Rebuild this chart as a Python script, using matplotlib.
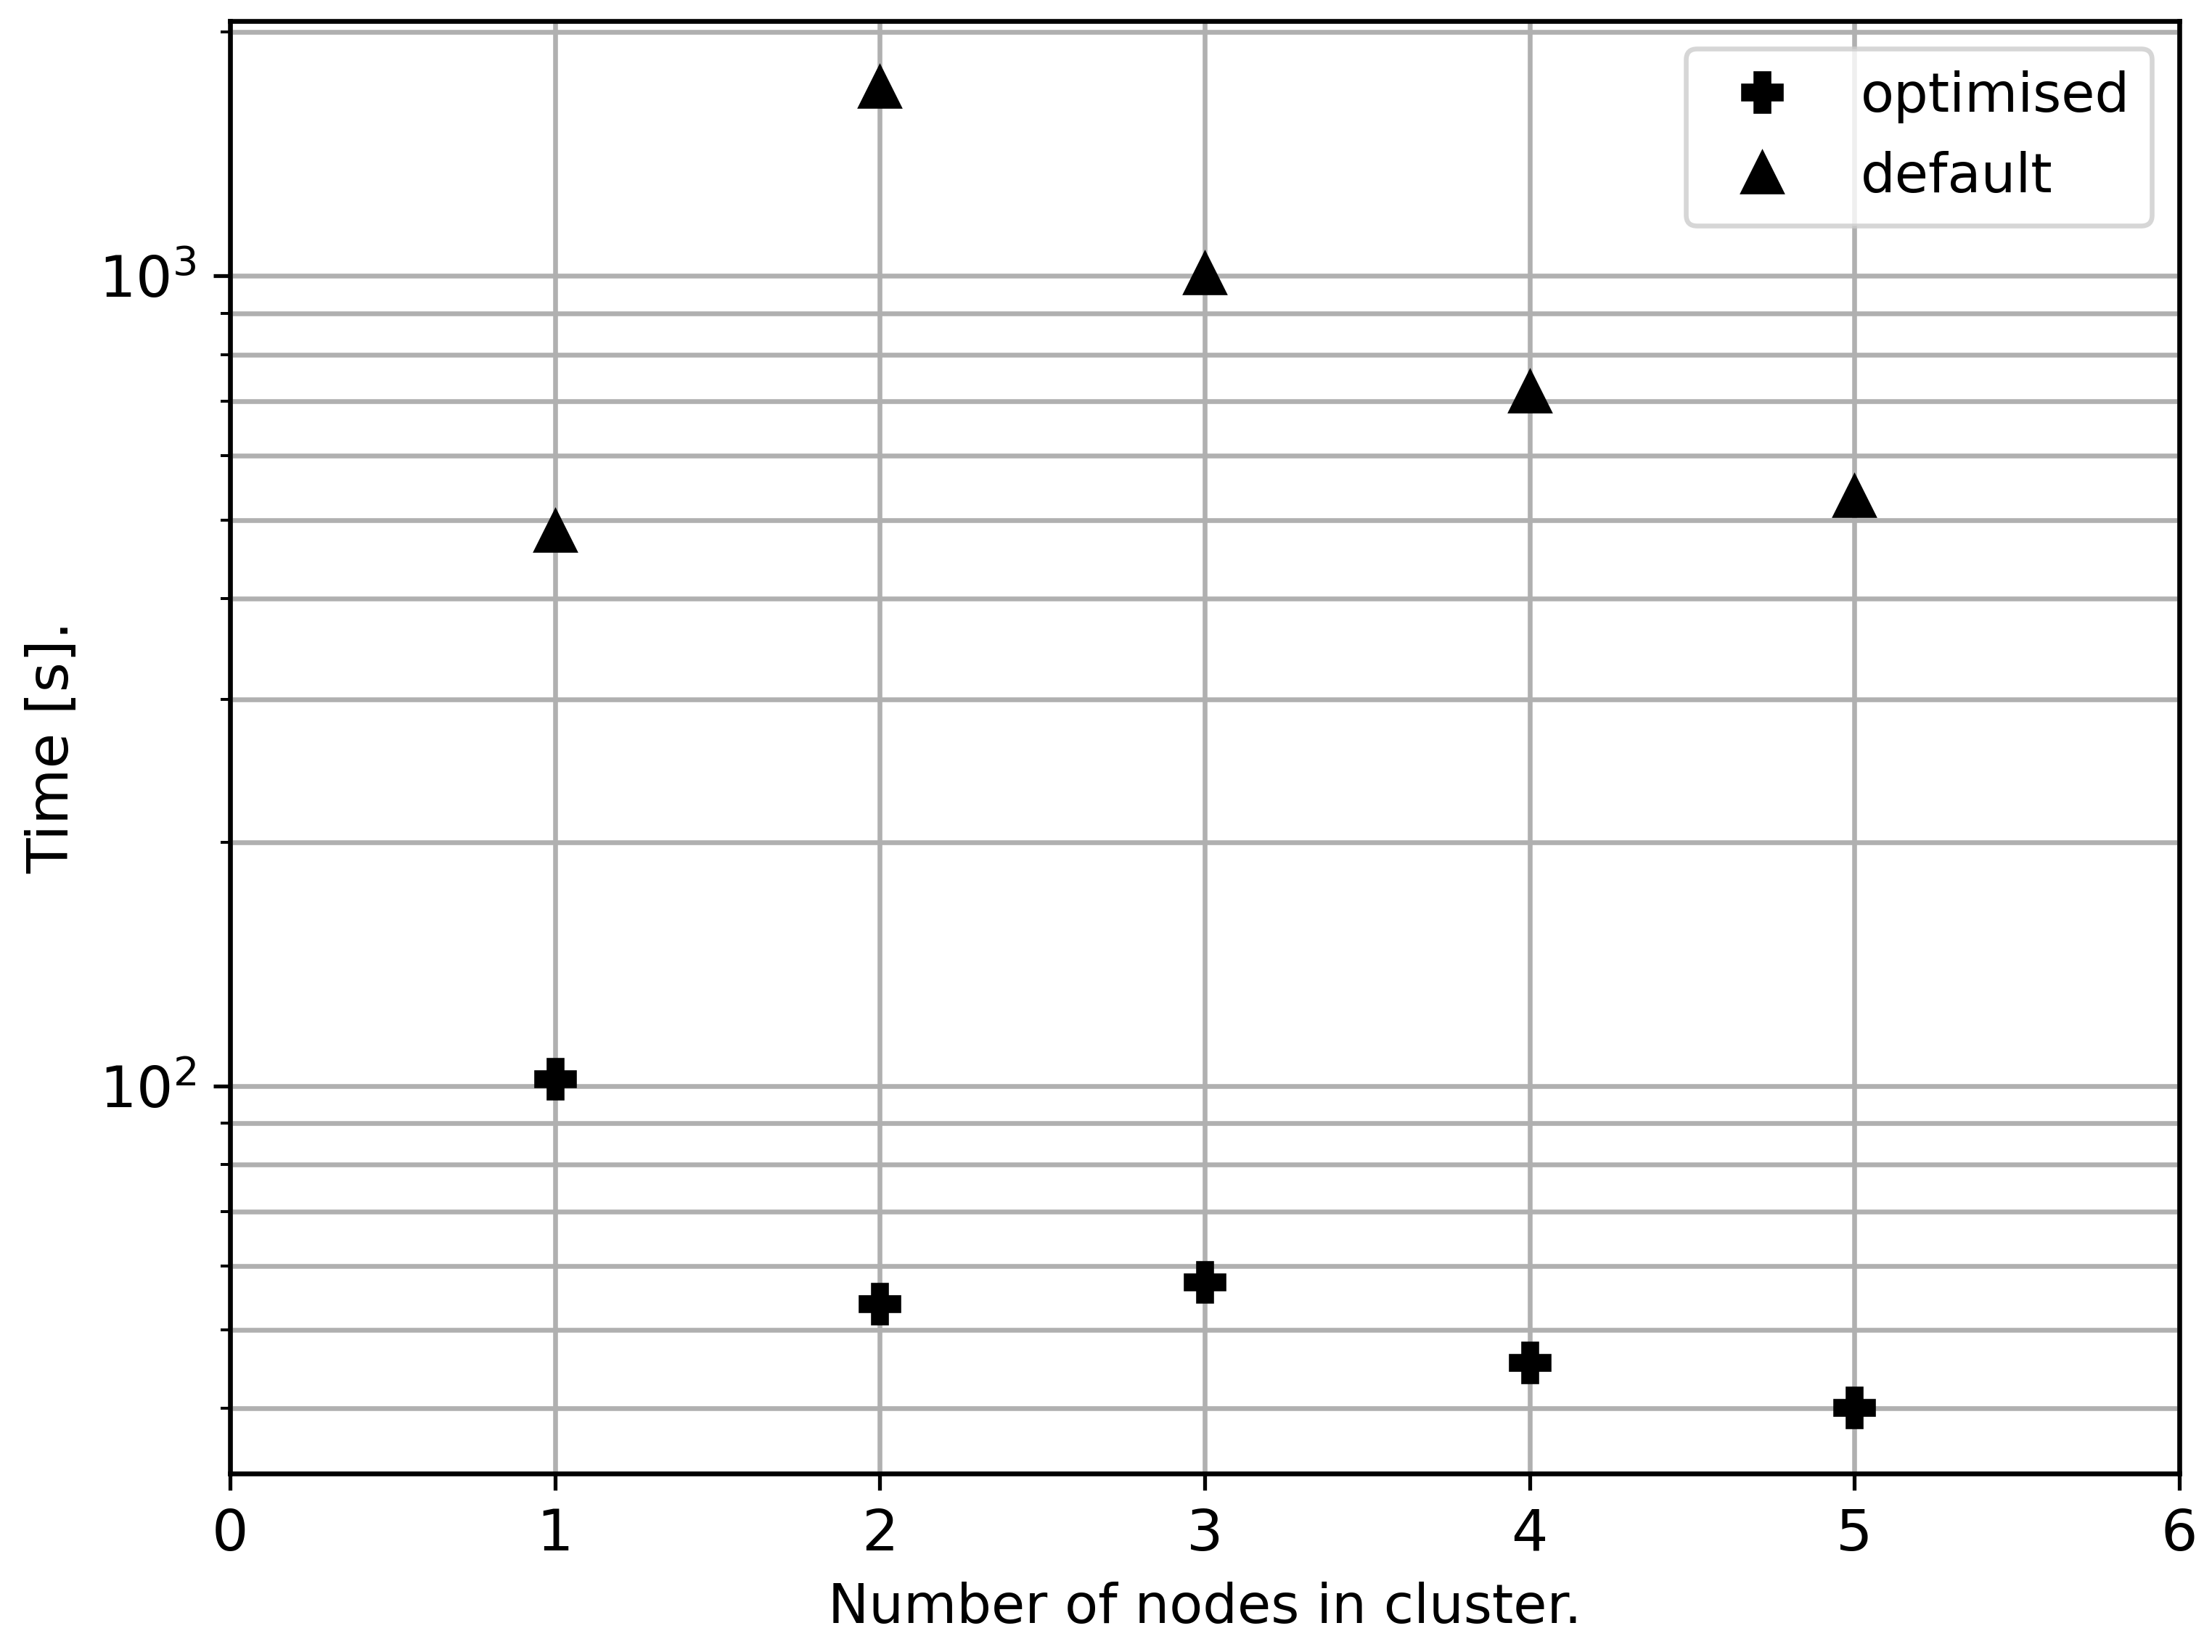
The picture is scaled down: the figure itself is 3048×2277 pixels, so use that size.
import matplotlib
matplotlib.use("Agg")
import matplotlib.pyplot as plt

nodes = [1, 2, 3, 4, 5]
optimised = [102, 53.9, 57.3, 45.6, 40.1]
default = [484, 1711, 1008, 720, 535]
xticks = [0, 1, 2, 3, 4, 5, 6]

plt.rcParams['font.size'] = 12
plt.rcParams['axes.linewidth'] = 1.0
plt.rcParams['grid.linewidth'] = 1.0

dpi = 476
fig = plt.figure(figsize=(3048 / dpi, 2277 / dpi), dpi=dpi)
ax = fig.add_axes([317 / 3048, 1 - 2031 / 2277, (3003 - 317) / 3048, (2031 - 29) / 2277])

ax.plot(nodes, optimised, linestyle='none', marker='P', markersize=8, color='black', label='optimised')
ax.plot(nodes, default, linestyle='none', marker='^', markersize=8, color='black', label='default')
ax.set_yscale('log')
ax.set_xlim(0, 6)
ax.set_xticks(xticks)
ax.grid(True, which='both', axis='y')
ax.grid(True, which='major', axis='x')
ax.set_axisbelow(True)
ax.set_xlabel('Number of nodes in cluster.', fontsize=11.4)
ax.set_ylabel('Time [s].')
ax.legend(loc='upper right', numpoints=1, fontsize=11.4)

fig.savefig('out.png', dpi=dpi)
